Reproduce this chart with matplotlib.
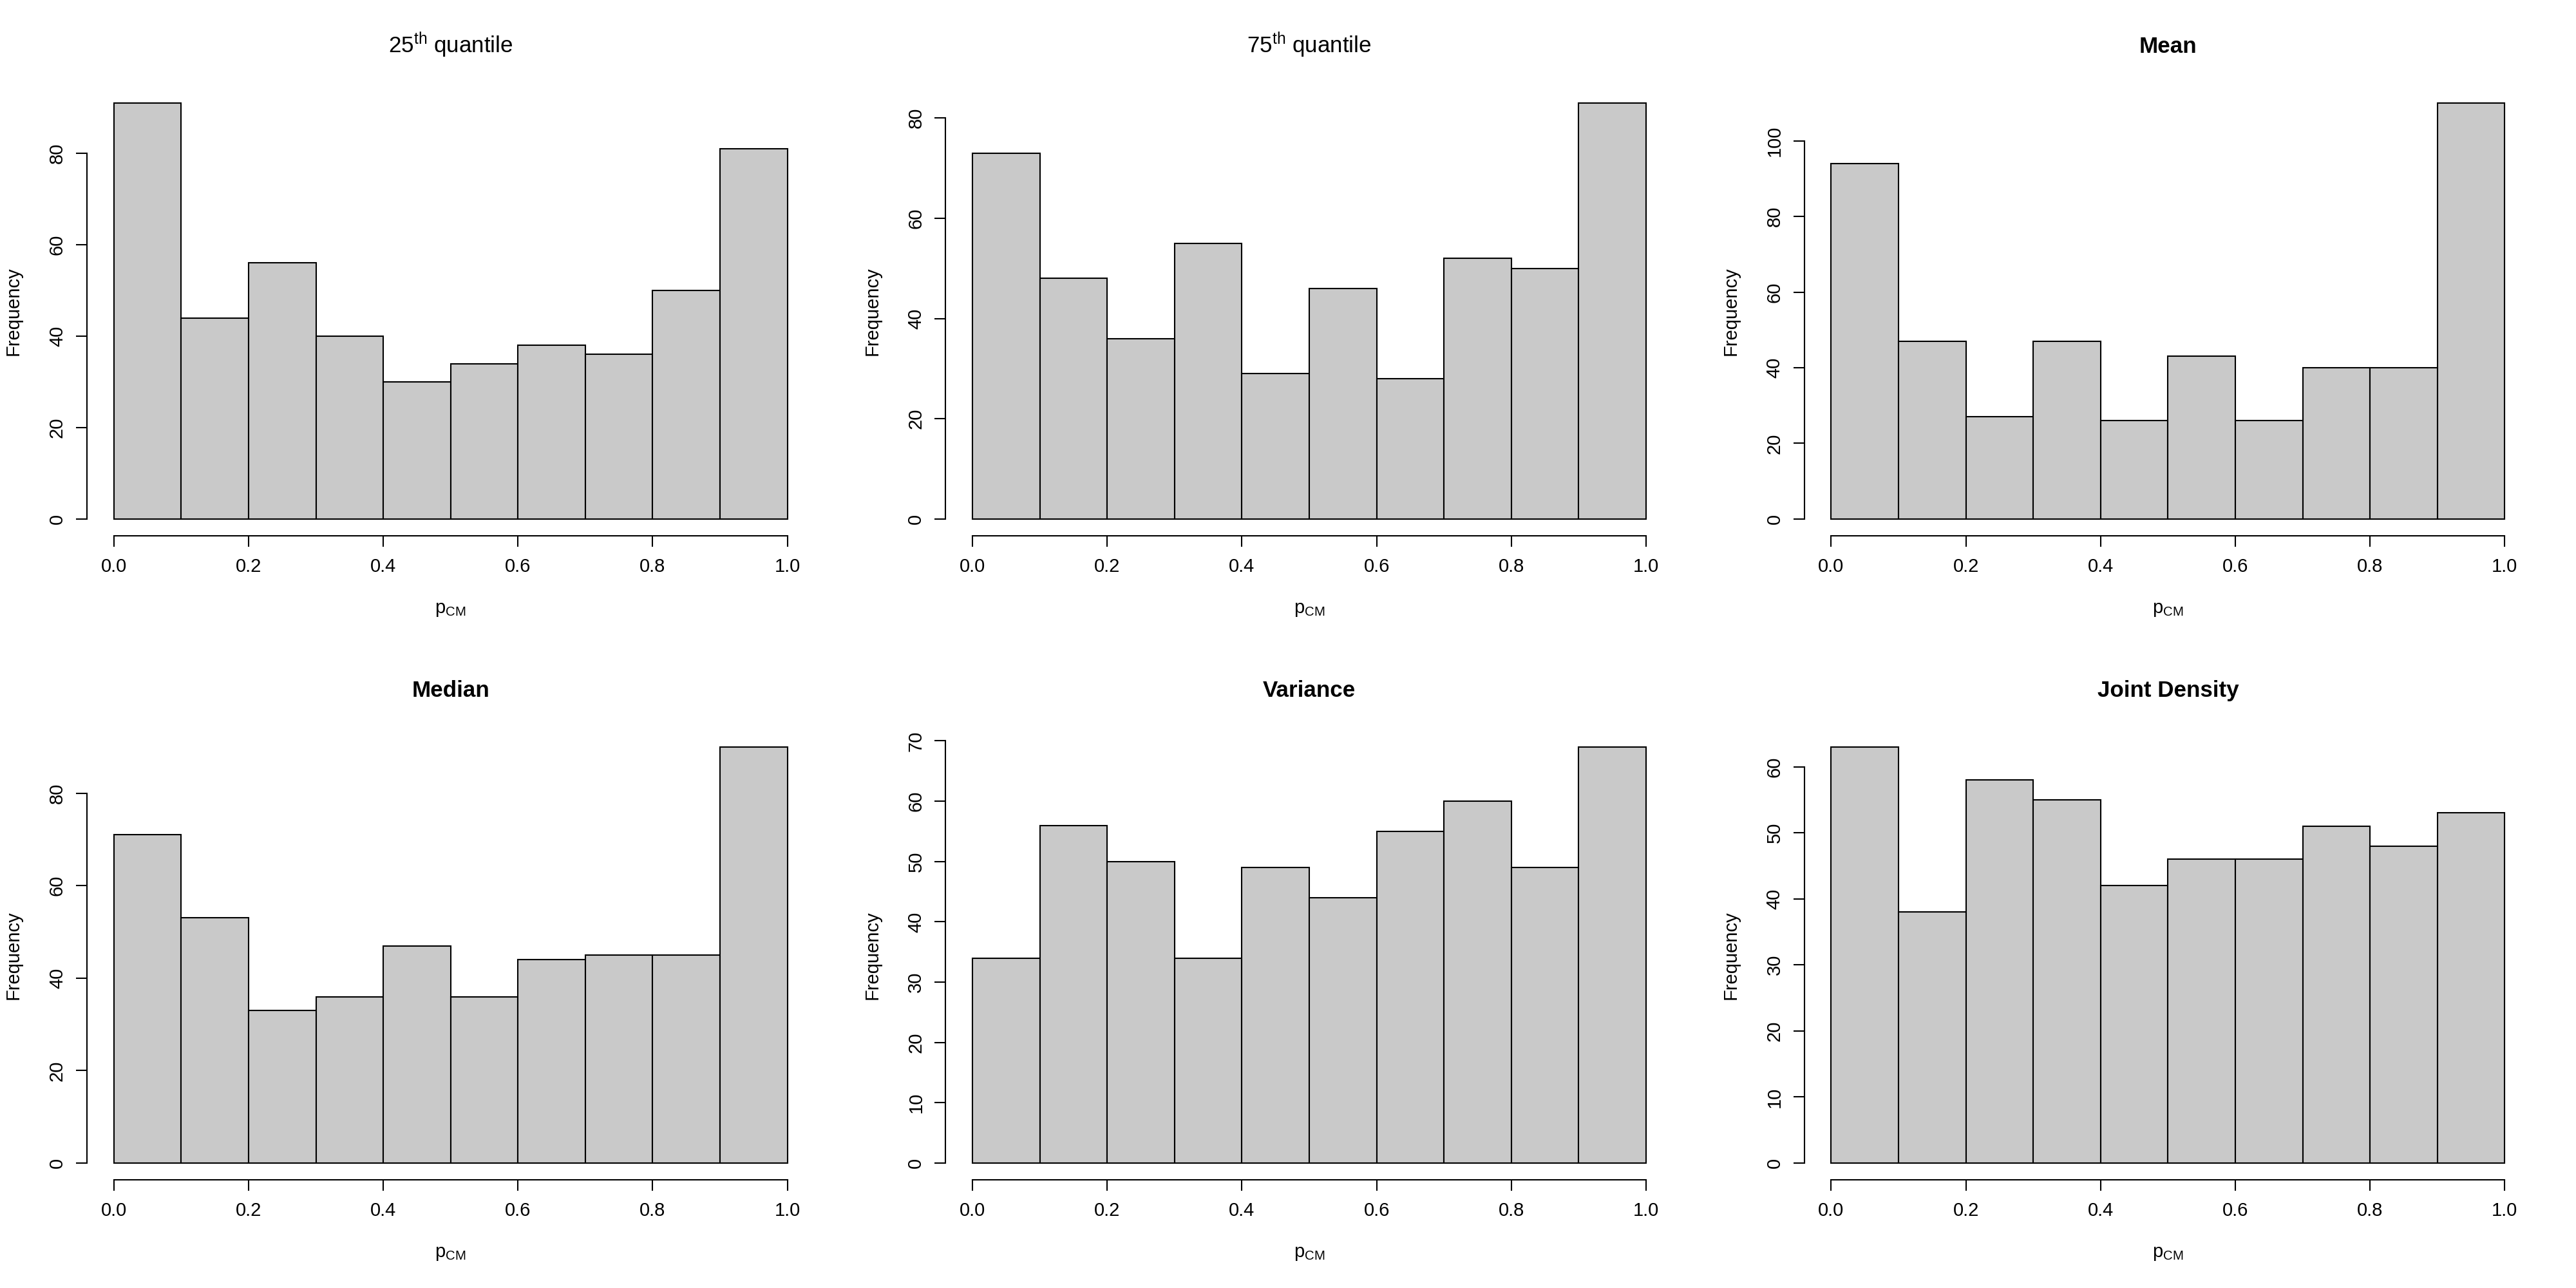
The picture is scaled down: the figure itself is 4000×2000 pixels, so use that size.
import numpy as np
import matplotlib
matplotlib.use("Agg")
import matplotlib.pyplot as plt
from matplotlib.ticker import FixedLocator, FormatStrFormatter

plt.rcParams.update({"font.family": ["Liberation Sans", "DejaVu Sans"],
                     "font.size": 8.4})

# bin edges shared by all panels (R hist, breaks = seq(0, 1, 0.1))
BREAKS = [0.0, 0.1, 0.2, 0.3, 0.4, 0.5, 0.6, 0.7, 0.8, 0.9, 1.0]

TITLES = [r"$\mathregular{25^{th}}$ quantile", r"$\mathregular{75^{th}}$ quantile",
          "Mean", "Median", "Variance", "Joint Density"]
BOLD = [False, False, True, True, True, True]

q25 = [91, 44, 56, 40, 30, 34, 38, 36, 50, 81]
q75 = [73, 48, 36, 55, 29, 46, 28, 52, 50, 83]
mean = [94, 47, 27, 47, 26, 43, 26, 40, 40, 110]
median = [71, 53, 33, 36, 47, 36, 44, 45, 45, 90]
variance = [34, 56, 50, 34, 49, 44, 55, 60, 49, 69]
joint = [63, 38, 58, 55, 42, 46, 46, 51, 48, 53]
COUNTS = [q25, q75, mean, median, variance, joint]

Y_STEP = [20, 20, 20, 20, 10, 10]
X_TICKS = [0.0, 0.2, 0.4, 0.6, 0.8, 1.0]

fig = plt.figure(figsize=(16, 8), dpi=250)

LW = 0.6
for i, (cnt, title) in enumerate(zip(COUNTS, TITLES)):
    row, col = divmod(i, 3)
    left = 0.03373 + col / 3
    bottom = 0.5841 - 0.5 * row
    ax = fig.add_axes([left, bottom, 0.2824, 0.3489])

    edges = np.array(BREAKS)
    ax.bar(edges[:-1], cnt, width=np.diff(edges), align="edge",
           color="#C9C9C9", edgecolor="black", linewidth=LW)

    top = max(cnt)
    ymax = 1.04 * top
    ax.set_xlim(-0.04, 1.04)
    ax.set_ylim(-0.04 * top, ymax)

    # R's axis() keeps every pretty tick that falls inside the plot region
    yt = np.arange(0, ymax + 1e-9, Y_STEP[i])
    ax.yaxis.set_major_locator(FixedLocator(yt))
    ax.xaxis.set_major_locator(FixedLocator(X_TICKS))
    ax.xaxis.set_major_formatter(FormatStrFormatter("%.1f"))

    for s in ("top", "right"):
        ax.spines[s].set_visible(False)
    ax.spines["left"].set_bounds(0, yt[-1])
    ax.spines["bottom"].set_bounds(0, 1)
    for s in ("left", "bottom"):
        ax.spines[s].set_linewidth(LW)

    ax.tick_params(axis="both", direction="out", length=4.9, width=LW,
                   labelsize=8.4)
    ax.tick_params(axis="x", pad=5.0)
    ax.tick_params(axis="y", pad=4.3)
    for lab in ax.get_yticklabels():
        lab.set_rotation(90)
        lab.set_va("center")

    ax.set_title(title, fontsize=10.1,
                 fontweight="bold" if BOLD[i] else "normal", pad=15)

    ax.set_xlabel(r"$\mathregular{p_{CM}}$", fontsize=8.4, va="baseline")
    ax.xaxis.set_label_coords(0.5, -0.1723)
    ax.set_ylabel("Frequency", fontsize=8.4, va="baseline")
    ax.yaxis.set_label_coords(-0.0937, 0.5)

fig.savefig("out.png", dpi=250)
